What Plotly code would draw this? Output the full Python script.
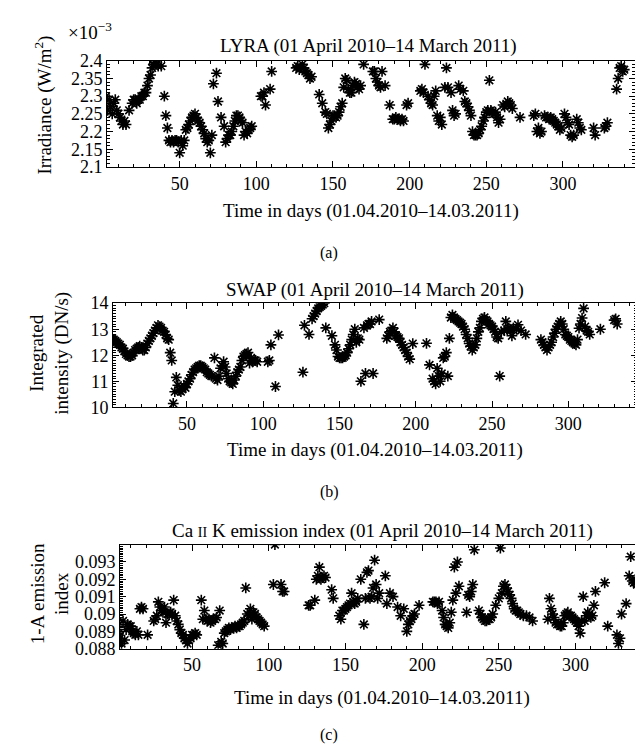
import plotly.graph_objects as go

# ---------------- data ----------------
lyra_day = [1, 2, 3, 4, 5, 6, 7, 8, 9, 10, 11, 12, 13, 14, 15, 17, 19, 20, 21, 22, 23, 24, 25, 26, 27, 28, 29, 30,
            31, 32, 33, 34, 35, 36, 38, 40, 41, 42, 43, 44, 45, 46, 47, 48, 49, 50, 51, 52, 53, 54, 55, 56, 57, 58,
            59, 60, 61, 62, 63, 64, 65, 66, 67, 68, 69, 70, 71, 72, 74, 75, 77, 79, 80, 81, 82, 83, 84, 85, 86, 87,
            88, 89, 90, 91, 92, 93, 94, 95, 96, 97, 103, 104, 105, 106, 109, 110, 126, 127, 128, 129, 130, 131, 132,
            133, 134, 135, 136, 141, 143, 145, 146, 147, 148, 149, 150, 151, 152, 153, 154, 155, 156, 157, 158, 159,
            160, 161, 162, 163, 164, 165, 166, 167, 168, 170, 176, 177, 178, 179, 180, 181, 182, 184, 187, 189, 190,
            191, 192, 193, 194, 195, 196, 198, 199, 207, 208, 209, 210, 212, 213, 214, 215, 216, 217, 218, 219, 220,
            221, 223, 224, 225, 227, 228, 229, 230, 232, 233, 235, 236, 237, 238, 239, 240, 241, 242, 243, 244, 245,
            246, 247, 248, 249, 250, 251, 252, 253, 254, 255, 256, 257, 258, 259, 261, 262, 264, 265, 266, 267, 272,
            281, 282, 283, 284, 285, 286, 288, 289, 290, 291, 292, 293, 294, 295, 296, 297, 298, 299, 301, 302, 303,
            304, 305, 306, 307, 309, 310, 311, 312, 320, 321, 327, 328, 329, 335, 336, 337, 338, 339, 340]
lyra_irr = [2.28, 2.30, 2.26, 2.29, 2.27, 2.25, 2.28, 2.29, 2.26, 2.25, 2.24, 2.23, 2.22, 2.23, 2.22, 2.26, 2.28,
            2.29, 2.29, 2.28, 2.29, 2.29, 2.30, 2.30, 2.31, 2.31, 2.33, 2.35, 2.36, 2.38, 2.39, 2.395, 2.39, 2.385,
            2.385, 2.30, 2.245, 2.21, 2.175, 2.17, 2.175, 2.17, 2.175, 2.175, 2.17, 2.14, 2.175, 2.16, 2.175, 2.205,
            2.21, 2.22, 2.23, 2.24, 2.245, 2.25, 2.24, 2.23, 2.225, 2.215, 2.205, 2.195, 2.18, 2.17, 2.175, 2.14,
            2.19, 2.335, 2.365, 2.285, 2.24, 2.215, 2.17, 2.18, 2.19, 2.19, 2.20, 2.215, 2.23, 2.245, 2.245, 2.24,
            2.23, 2.225, 2.19, 2.20, 2.195, 2.205, 2.21, 2.215, 2.30, 2.30, 2.31, 2.275, 2.32, 2.37, 2.38, 2.385,
            2.375, 2.38, 2.39, 2.38, 2.37, 2.365, 2.36, 2.35, 2.355, 2.305, 2.28, 2.255, 2.25, 2.21, 2.22, 2.23,
            2.245, 2.245, 2.24, 2.245, 2.255, 2.27, 2.28, 2.325, 2.35, 2.345, 2.32, 2.31, 2.31, 2.33, 2.34, 2.335,
            2.325, 2.32, 2.33, 2.39, 2.37, 2.37, 2.35, 2.34, 2.33, 2.325, 2.37, 2.33, 2.275, 2.235, 2.235, 2.24,
            2.235, 2.235, 2.23, 2.235, 2.23, 2.275, 2.28, 2.315, 2.32, 2.31, 2.39, 2.30, 2.29, 2.28, 2.275, 2.30,
            2.315, 2.245, 2.23, 2.24, 2.22, 2.325, 2.38, 2.325, 2.31, 2.26, 2.245, 2.25, 2.33, 2.32, 2.315, 2.285,
            2.28, 2.27, 2.26, 2.245, 2.20, 2.19, 2.19, 2.19, 2.195, 2.205, 2.215, 2.23, 2.24, 2.255, 2.26, 2.345,
            2.26, 2.255, 2.25, 2.255, 2.24, 2.225, 2.235, 2.275, 2.27, 2.285, 2.28, 2.275, 2.265, 2.24, 2.245, 2.25,
            2.20, 2.21, 2.195, 2.20, 2.245, 2.24, 2.24, 2.235, 2.24, 2.235, 2.23, 2.225, 2.22, 2.215, 2.205, 2.21,
            2.25, 2.24, 2.225, 2.22, 2.19, 2.185, 2.19, 2.235, 2.225, 2.21, 2.205, 2.21, 2.19, 2.21, 2.215, 2.225,
            2.32, 2.35, 2.38, 2.385, 2.37, 2.375]

swap_day = [1, 2, 3, 4, 5, 6, 7, 8, 9, 10, 11, 12, 13, 14, 15, 16, 17, 18, 19, 20, 21, 22, 23, 24, 25, 26, 27, 28,
            29, 30, 31, 32, 33, 34, 35, 36, 37, 38, 39, 40, 41, 42, 43, 44, 45, 46, 47, 48, 49, 50, 51, 52, 53, 54,
            55, 56, 57, 58, 59, 60, 61, 62, 63, 64, 65, 66, 68, 69, 70, 71, 72, 73, 74, 75, 76, 77, 78, 79, 80, 81,
            82, 83, 84, 85, 86, 87, 88, 89, 90, 91, 92, 93, 94, 95, 96, 103, 104, 105, 108, 110, 126, 127, 130, 132,
            133, 134, 135, 136, 137, 138, 139, 140, 141, 145, 147, 148, 149, 150, 151, 152, 153, 154, 155, 156, 157,
            158, 159, 160, 161, 162, 163, 164, 166, 167, 168, 169, 170, 171, 172, 176, 181, 182, 183, 184, 185, 186,
            187, 188, 189, 190, 191, 192, 193, 194, 195, 196, 198, 207, 209, 211, 212, 213, 214, 215, 216, 217, 218,
            219, 220, 221, 222, 223, 224, 225, 226, 227, 228, 229, 230, 231, 232, 233, 234, 235, 236, 237, 238, 239,
            240, 241, 242, 243, 244, 245, 246, 247, 248, 249, 250, 251, 252, 253, 254, 255, 256, 258, 259, 260, 261,
            262, 263, 264, 266, 267, 269, 272, 282, 283, 284, 285, 286, 287, 288, 289, 290, 291, 292, 293, 294, 295,
            296, 297, 298, 299, 300, 301, 302, 303, 304, 305, 306, 307, 308, 309, 310, 311, 312, 313, 314, 321,
            330, 331, 332, 333, 334, 335, 336, 337, 338]
swap_int = [12.65, 12.6, 12.55, 12.5, 12.45, 12.4, 12.3, 12.25, 12.15, 12.05, 12.0, 11.95, 11.95, 12.0, 12.1,
            12.2, 12.25, 12.3, 12.35, 12.3, 12.2, 12.2, 12.3, 12.45, 12.55, 12.65, 12.75, 12.85, 12.95, 13.05,
            13.15, 13.1, 13.05, 12.95, 12.9, 12.8, 12.65, 12.6, 12.1, 11.8, 10.15, 10.6, 11.15, 10.85, 10.65, 10.6,
            10.7, 10.8, 10.75, 10.9, 11.0, 11.1, 11.25, 11.35, 11.45, 11.5, 11.55, 11.6, 11.6, 11.55, 11.5, 11.45,
            11.35, 11.3, 11.25, 11.2, 11.9, 11.1, 11.05, 11.2, 11.5, 11.6, 11.75, 11.55, 11.3, 11.1, 11.0, 10.95,
            10.9, 11.05, 11.2, 11.35, 11.45, 11.55, 11.8, 11.95, 12.0, 12.05, 12.1, 11.7, 11.9, 11.75, 11.8, 11.8,
            11.75, 11.75, 11.8, 12.4, 10.8, 12.78, 11.35, 13.15, 12.8, 13.4, 13.5, 13.6, 13.7, 13.8, 13.85, 13.9,
            13.95, 14.0, 13.05, 12.75, 12.4, 12.2, 11.95, 11.9, 11.9, 11.9, 11.95, 12.0, 12.1, 12.25, 12.4, 12.6,
            12.8, 13.0, 12.5, 12.65, 12.6, 11.0, 13.05, 11.3, 13.15, 13.2, 13.2, 13.3, 11.3, 13.37, 12.65, 12.75,
            12.9, 12.95, 13.05, 12.9, 12.75, 12.7, 12.65, 12.5, 12.4, 12.3, 12.2, 12.1, 11.95, 11.85, 12.45, 12.46,
            11.63, 11.1, 11.0, 10.9, 11.5, 11.2, 11.0, 11.3, 11.9, 11.95, 12.1, 11.2, 12.65, 13.45, 13.55, 13.45,
            13.4, 13.35, 13.3, 13.25, 13.2, 13.1, 13.0, 12.8, 12.65, 12.45, 12.35, 12.2, 12.3, 12.4, 12.65, 12.9,
            13.05, 13.3, 13.4, 13.45, 13.35, 13.3, 13.2, 13.15, 13.1, 13.0, 12.9, 12.7, 12.65, 11.2, 12.9, 12.95,
            13.3, 13.0, 13.05, 12.95, 12.75, 13.05, 13.0, 13.17, 12.95, 12.8, 12.6, 12.5, 12.4, 12.3, 12.2, 12.3,
            12.4, 12.5, 12.7, 12.85, 13.0, 13.1, 13.2, 13.3, 13.2, 13.0, 12.8, 12.75, 12.7, 12.6, 12.55, 12.5,
            12.45, 12.4, 12.6, 13.04, 13.2, 13.43, 13.8, 13.1, 12.95, 12.9, 12.8, 13.0, 13.35, 13.4, 13.2]

caii_day = [1, 2, 3, 4, 5, 6, 7, 8, 9, 10, 11, 12, 13, 14, 15, 16, 17, 18, 21, 25, 26, 27, 28, 29, 30, 31, 32, 33,
            34, 35, 36, 37, 38, 39, 40, 41, 42, 43, 44, 45, 46, 47, 48, 49, 50, 51, 52, 53, 56, 57, 58, 59, 60, 61,
            62, 63, 64, 65, 66, 67, 68, 69, 70, 71, 72, 73, 74, 75, 76, 77, 78, 79, 80, 81, 82, 83, 84, 85, 86, 87,
            88, 89, 90, 91, 92, 93, 94, 95, 96, 97, 103, 104, 108, 109, 110, 126, 127, 130, 131, 132, 133, 134, 135,
            136, 137, 141, 142, 146, 147, 148, 149, 150, 151, 152, 153, 154, 155, 156, 157, 158, 160, 162, 163, 164,
            165, 166, 167, 168, 169, 170, 171, 172, 176, 177, 179, 181, 184, 186, 188, 190, 191, 192, 193, 194, 195,
            198, 207, 208, 209, 210, 211, 213, 214, 215, 216, 217, 218, 219, 220, 221, 222, 223, 224, 229, 230, 231,
            232, 233, 234, 237, 238, 239, 240, 241, 242, 243, 244, 245, 246, 248, 250, 251, 252, 253, 254, 255, 256,
            257, 258, 259, 260, 261, 262, 263, 264, 266, 268, 270, 272, 282, 283, 284, 285, 286, 287, 288, 289, 290,
            291, 292, 293, 294, 295, 296, 297, 298, 299, 300, 301, 302, 303, 304, 305, 306, 307, 308, 309, 310, 311,
            312, 313, 319, 321, 327, 328, 329, 330, 333, 335, 336, 337, 338, 339, 340, 341, 342, 343, 344, 345]
caii_idx = [0.0893, 0.0889, 0.0886, 0.0883, 0.0896, 0.0885, 0.0891, 0.0894, 0.0893, 0.0893, 0.0890, 0.0889,
            0.0888, 0.0890, 0.0888, 0.0903, 0.0904, 0.0903, 0.0888, 0.0896, 0.0897, 0.0899, 0.0907, 0.0904,
            0.0902, 0.0901, 0.0904, 0.0895, 0.0900, 0.0900, 0.0901, 0.0900, 0.0908, 0.0899, 0.0896, 0.0894,
            0.0891, 0.0889, 0.0888, 0.0886, 0.0885, 0.0883, 0.0885, 0.0886, 0.0888, 0.0888, 0.0889, 0.0888,
            0.0908, 0.0897, 0.0902, 0.0897, 0.0896, 0.0897, 0.0895, 0.0896, 0.0897, 0.0897, 0.0898, 0.0882,
            0.0902, 0.0884, 0.0883, 0.0889, 0.0890, 0.0891, 0.0892, 0.0891, 0.0892, 0.0892, 0.0893, 0.0892,
            0.0893, 0.0893, 0.0894, 0.0895, 0.0896, 0.0915, 0.0900, 0.0899, 0.0903, 0.0897, 0.0901, 0.0900,
            0.0898, 0.0897, 0.0896, 0.0895, 0.0894, 0.0893, 0.0917, 0.0940, 0.0917, 0.0913, 0.0913, 0.0905,
            0.0905, 0.0908, 0.0920, 0.0922, 0.0927, 0.0920, 0.0921, 0.0922, 0.0921, 0.0914, 0.0909, 0.0899,
            0.0897, 0.0902, 0.0902, 0.0903, 0.0904, 0.0905, 0.0906, 0.0912, 0.0907, 0.0906, 0.0907, 0.0909,
            0.0920, 0.0894, 0.0909, 0.0924, 0.0925, 0.0909, 0.0910, 0.0915, 0.0931, 0.0917, 0.0909, 0.0912,
            0.0922, 0.0906, 0.0912, 0.0910, 0.0904, 0.0899, 0.0903, 0.0890, 0.0894, 0.0896, 0.0897, 0.0899,
            0.0900, 0.0905, 0.0907, 0.0907, 0.0907, 0.0906, 0.0907, 0.0902, 0.0898, 0.0894, 0.0893, 0.0892,
            0.0895, 0.0901, 0.0908, 0.0927, 0.0912, 0.0930, 0.0916, 0.0901, 0.0911, 0.0910, 0.0913, 0.0917,
            0.0937, 0.0902, 0.0900, 0.0898, 0.0897, 0.0896, 0.0896, 0.0897, 0.0897, 0.0898, 0.0900, 0.0905,
            0.0909, 0.0938, 0.0912, 0.0916, 0.0917, 0.0915, 0.0913, 0.0911, 0.0909, 0.0906, 0.0903, 0.0902,
            0.0902, 0.0901, 0.0900, 0.0899, 0.0899, 0.0898, 0.0896, 0.0897, 0.0909, 0.0903, 0.0900, 0.0898,
            0.0895, 0.0894, 0.0894, 0.0893, 0.0893, 0.0895, 0.0899, 0.0900, 0.0901, 0.0899, 0.0899, 0.0898,
            0.0897, 0.0896, 0.0895, 0.0893, 0.0889, 0.0896, 0.0910, 0.0896, 0.0899, 0.0901, 0.0900, 0.0898,
            0.0899, 0.0905, 0.0913, 0.0918, 0.0893, 0.0888, 0.0883, 0.0886, 0.0900, 0.0906, 0.0922, 0.0933,
            0.0919, 0.0918, 0.0920, 0.0917, 0.0918, 0.0916, 0.0917, 0.0915, 0.0910]

x_ticks = [50, 100, 150, 200, 250, 300]
lyra_ticks = [2.1, 2.15, 2.2, 2.25, 2.3, 2.35, 2.4]
lyra_labels = ["2.1", "2.15", "2.2", "2.25", "2.3", "2.35", "2.4"]
swap_ticks = [10, 11, 12, 13, 14]
caii_ticks = [0.088, 0.089, 0.09, 0.091, 0.092, 0.093]
caii_labels = ["0.088", "0.089", "0.09", "0.091", "0.092", "0.093"]

title_a = "LYRA (01 April 2010\u201314 March 2011)"
title_b = "SWAP (01 April 2010\u201314 March 2011)"
title_c = "Ca <span style='font-size:14px'>II</span> K emission index (01 April 2010\u201314 March 2011)"
xtitle = "Time in days (01.04.2010\u201314.03.2011)"

# ---------------- layout helpers ----------------
W, H = 643, 750
FONT = "Liberation Serif"
FS = 19
TFS = 18


def px(x):
    return x / W


def py(y):
    return 1 - y / H


marker = dict(symbol="asterisk-open", size=9, color="black",
              line=dict(color="black", width=1.6))

fig = go.Figure()
fig.add_trace(go.Scatter(x=lyra_day, y=lyra_irr, mode="markers", marker=marker,
                         xaxis="x", yaxis="y", showlegend=False))
fig.add_trace(go.Scatter(x=swap_day, y=swap_int, mode="markers", marker=marker,
                         xaxis="x2", yaxis="y2", showlegend=False))
fig.add_trace(go.Scatter(x=caii_day, y=caii_idx, mode="markers", marker=marker,
                         xaxis="x3", yaxis="y3", showlegend=False))


def xax(x0, x1, rng, anchor):
    return dict(domain=[px(x0), px(x1)], range=rng, anchor=anchor,
                tickvals=x_ticks, ticks="inside", ticklen=6, tickwidth=1, tickcolor="black",
                minor=dict(dtick=10, tick0=0, ticks="inside", ticklen=3, tickcolor="black", showgrid=False),
                showline=True, linecolor="black", linewidth=1, mirror="ticks",
                showgrid=False, zeroline=False,
                tickfont=dict(family=FONT, size=TFS, color="black"))


def yax(y0, y1, rng, anchor, tv, mdt, labels=None):
    d = dict(domain=[py(y1), py(y0)], range=rng, anchor=anchor,
             tickvals=tv, ticks="inside", ticklen=6, tickwidth=1, tickcolor="black",
             minor=dict(dtick=mdt, ticks="inside", ticklen=3, tickcolor="black", showgrid=False),
             showline=True, linecolor="black", linewidth=1, mirror="ticks",
             showgrid=False, zeroline=False,
             tickfont=dict(family=FONT, size=TFS, color="black"))
    if labels:
        d["ticktext"] = labels
    return d


fig.update_layout(
    width=W, height=H,
    margin=dict(l=0, r=0, t=0, b=0),
    paper_bgcolor="white", plot_bgcolor="white",
    font=dict(family=FONT, size=FS, color="black"),
    xaxis=xax(99, 627, [2.6, 347], "y"),
    yaxis=yax(44, 153, [2.1, 2.4], "x", lyra_ticks, 0.01, lyra_labels),
    xaxis2=xax(105, 629, [1.5, 345], "y2"),
    yaxis2=yax(293, 400, [10, 14], "x2", swap_ticks, 0.1),
    xaxis3=xax(112, 635, [3, 344], "y3"),
    yaxis3=yax(541, 648, [0.088, 0.094], "x3", caii_ticks, 0.0001, caii_labels),
)


def ann(text, x, y, size=FS, angle=0):
    fig.add_annotation(text=text, x=px(x), y=py(y), xref="paper", yref="paper",
                       showarrow=False, textangle=angle, xanchor="center", yanchor="middle",
                       font=dict(family=FONT, size=size, color="black"))


# titles
ann(title_a, 360, 29)
ann(title_b, 367, 279)
ann(title_c, 374, 527)
ann("\u00d710<sup>\u22123</sup>", 82, 13)
# axis titles
ann(xtitle, 363, 198)
ann(xtitle, 367, 444)
ann(xtitle, 374, 699)
ann("Irradiance (W/m<sup>2</sup>)", 36, 90, angle=-90)
ann("Integrated<br>intensity (DN/s)", 42, 345, angle=-90)
ann("1-A emission<br>index", 42, 592, angle=-90)
# panel labels
ann("(a)", 321, 241, size=16)
ann("(b)", 321, 487, size=16)
ann("(c)", 321, 737, size=16)

fig.write_html("out.html")
